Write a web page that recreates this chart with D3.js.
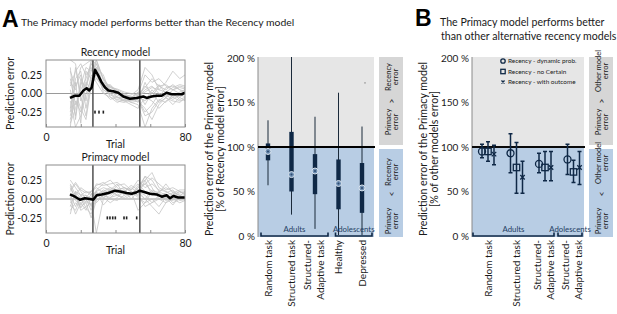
<!DOCTYPE html>
<html>
<head>
<meta charset="utf-8">
<script src="https://cdn.jsdelivr.net/npm/d3@7"></script>
<style>
  body { margin: 0; background: #fff; }
  svg { display: block; font-family: Lato, "Open Sans", sans-serif; }
</style>
</head>
<body>
<div id="fig"></div>
<script>
// ---------- data: panel A, trial-by-trial prediction error ----------
const switchTrials = [27, 54];
const trialsGray = [14, 17, 20, 23, 26, 29, 33, 37, 41, 45, 49, 53, 57, 61, 65, 69, 73, 77, 80];

const recencyGray = [
  [0.30, 0.10, 0.25, -0.20, 0.15, 0.45, 0.20, 0.05, 0.00, -0.05, -0.10, -0.05, 0.05, 0.10, 0.00, -0.05, 0.05, 0.00, 0.02],
  [-0.40, -0.20, 0.10, 0.35, 0.30, 0.40, 0.10, 0.05, -0.05, -0.08, -0.12, -0.10, -0.20, -0.35, -0.15, -0.05, 0.00, -0.08, -0.05],
  [0.45, 0.40, -0.10, 0.10, 0.45, 0.25, 0.15, 0.10, 0.05, 0.00, -0.05, 0.00, 0.25, 0.15, 0.20, 0.10, 0.05, 0.10, 0.08],
  [-0.10, -0.45, -0.30, 0.00, 0.20, 0.30, 0.05, 0.00, -0.10, -0.12, -0.08, -0.05, -0.10, 0.05, -0.05, 0.08, 0.10, 0.05, 0.00],
  [0.10, 0.30, 0.40, 0.25, 0.35, 0.20, 0.08, 0.10, 0.02, -0.02, -0.06, -0.02, 0.10, 0.00, 0.12, 0.00, -0.05, 0.02, 0.05],
  [-0.30, 0.00, -0.20, -0.35, 0.10, 0.35, 0.25, 0.00, -0.05, -0.10, -0.15, -0.20, -0.05, -0.10, -0.20, -0.10, -0.05, -0.10, -0.08],
  [0.20, -0.15, 0.05, 0.20, 0.40, 0.30, 0.12, 0.08, 0.04, -0.04, -0.02, 0.05, 0.35, 0.25, 0.05, 0.15, 0.30, 0.20, 0.25],
  [-0.45, 0.20, 0.30, -0.10, 0.25, 0.15, 0.00, -0.05, -0.08, -0.10, -0.04, -0.08, -0.25, -0.15, 0.00, -0.05, -0.15, -0.05, 0.00],
  [0.05, -0.30, 0.15, 0.10, 0.30, 0.45, 0.18, 0.02, -0.02, -0.06, -0.09, -0.03, 0.02, 0.08, 0.05, 0.02, 0.08, 0.12, 0.10],
  [-0.20, 0.15, -0.40, 0.30, 0.20, 0.25, 0.05, -0.02, -0.06, -0.05, -0.12, -0.15, -0.45, -0.20, -0.08, -0.12, -0.02, -0.05, -0.10],
  [0.35, -0.35, 0.20, 0.05, 0.40, 0.35, 0.10, 0.12, 0.00, -0.02, -0.05, -0.12, 0.15, -0.05, 0.10, 0.05, 0.12, 0.05, 0.03],
  [-0.25, 0.35, -0.05, -0.30, 0.15, 0.20, 0.15, -0.05, -0.12, -0.08, -0.10, -0.08, -0.30, -0.25, -0.10, -0.02, -0.08, -0.02, -0.04],
  [0.15, 0.05, 0.35, 0.40, 0.45, 0.40, 0.20, 0.08, 0.06, 0.02, 0.00, -0.02, 0.08, 0.20, 0.10, 0.12, 0.05, 0.08, 0.06],
  [-0.35, -0.10, -0.25, 0.15, 0.05, 0.30, 0.02, -0.08, -0.04, -0.10, -0.06, 0.02, -0.15, 0.02, -0.12, -0.06, -0.10, -0.12, -0.06]
];
const primacyGray = [
  [0.25, 0.15, 0.05, 0.10, 0.05, 0.10, 0.15, 0.12, 0.10, 0.08, 0.05, 0.15, 0.30, 0.25, 0.10, 0.05, 0.08, 0.05, 0.02],
  [-0.15, -0.05, -0.10, -0.05, -0.25, -0.02, 0.05, 0.02, 0.05, 0.00, 0.05, 0.10, 0.05, -0.05, 0.00, 0.05, -0.05, 0.00, 0.02],
  [0.10, 0.20, 0.10, 0.00, 0.05, 0.20, 0.18, 0.20, 0.22, 0.15, 0.10, 0.05, 0.25, 0.35, 0.15, 0.10, 0.05, 0.10, 0.05],
  [-0.05, 0.05, -0.15, -0.10, -0.05, -0.45, 0.00, 0.10, 0.05, 0.02, 0.08, 0.05, -0.10, -0.05, 0.05, 0.00, -0.02, 0.05, 0.00],
  [0.05, -0.10, 0.05, 0.05, 0.00, 0.05, 0.10, 0.15, 0.12, 0.15, 0.12, 0.20, 0.10, 0.05, 0.10, 0.15, 0.10, 0.05, 0.08],
  [0.15, 0.00, -0.05, -0.15, 0.02, 0.08, 0.02, -0.05, 0.02, 0.10, 0.15, 0.08, 0.00, -0.10, -0.20, -0.05, 0.00, -0.05, -0.02],
  [-0.20, 0.10, 0.00, 0.05, -0.10, 0.12, 0.20, 0.25, 0.15, 0.08, 0.05, 0.15, 0.20, 0.10, 0.05, 0.08, 0.12, 0.02, 0.05],
  [0.20, 0.05, 0.15, 0.10, 0.08, -0.05, 0.05, 0.00, -0.02, 0.05, 0.10, -0.15, -0.05, 0.10, 0.05, -0.02, 0.02, 0.08, 0.10],
  [0.00, -0.20, -0.05, 0.00, -0.15, 0.05, 0.12, 0.08, 0.18, 0.20, 0.12, 0.25, 0.15, 0.20, 0.12, 0.10, 0.05, 0.00, 0.03],
  [-0.10, 0.10, 0.05, -0.05, 0.02, 0.10, -0.08, 0.02, 0.10, 0.12, 0.00, 0.10, 0.30, 0.15, 0.00, -0.05, 0.05, 0.10, 0.06],
  [0.12, 0.22, 0.12, 0.08, 0.10, 0.15, 0.08, 0.12, 0.05, 0.10, 0.18, 0.12, 0.20, 0.28, 0.20, 0.12, 0.15, 0.10, 0.08],
  [-0.08, -0.15, 0.02, -0.12, -0.20, 0.02, 0.10, 0.05, 0.12, 0.15, 0.10, 0.02, -0.05, 0.00, -0.10, 0.02, 0.05, -0.02, -0.01],
  [0.18, -0.02, -0.08, 0.02, 0.10, 0.18, 0.22, 0.15, 0.08, 0.12, 0.05, 0.18, 0.25, 0.05, 0.08, 0.20, 0.08, 0.12, 0.12],
  [0.02, 0.08, -0.12, -0.02, -0.08, 0.08, 0.02, 0.12, 0.20, 0.05, 0.08, 0.10, 0.00, 0.12, 0.08, 0.02, -0.08, 0.04, 0.02]
];

const recMeanTrials = [13.8, 16.7, 19.2, 21.5, 23.4, 24.9, 26.3, 28.2, 30.1, 32, 34, 35.9, 38.7, 41.6, 44.5, 48.3, 52.2, 56, 57.9, 60.8, 63.7, 66.6, 69.4, 72.3, 75.2, 78.1, 80];
const recMean = [-0.06, -0.03, -0.03, 0.04, 0.07, 0.04, 0.08, 0.32, 0.24, 0.15, 0.08, 0.04, 0.03, 0.01, -0.04, -0.07, -0.06, -0.04, -0.06, -0.04, -0.03, -0.03, 0.01, -0.01, -0.01, -0.01, 0.01];
const priMeanTrials = [13.8, 16.7, 19.6, 22.4, 25.3, 27.2, 29.2, 32, 35.9, 39.7, 42.6, 46.4, 49.3, 52.2, 54.1, 57, 59.8, 63.7, 66.6, 69.4, 71.4, 73.3, 76.1, 80];
const priMean = [0.06, 0.03, -0.01, 0.01, 0, -0.01, 0.05, 0.06, 0.08, 0.11, 0.10, 0.08, 0.07, 0.09, 0.11, 0.09, 0.07, 0.06, 0.03, 0.05, 0.01, 0.04, 0.02, 0.02];

const recStars = [28.2, 30.5, 33];
const priStars = [35.3, 36.8, 38.4, 39.9, 44.9, 46.4, 52.2];
const starLevel = -0.25;

// ---------- data: panel A, box plots (% of Recency model error) ----------
const tasksA = ["Random task", "Structured task", "Structured-|Adaptive task", "Healthy", "Depressed"];
const boxLow = [57, 24, 8, 1, 1];
const boxQ1 = [85, 50, 47, 30, 26];
const boxMed = [95, 69, 73, 59, 54];
const boxQ3 = [104, 117, 92, 86, 82];
const boxHigh = [130, 215, 134, 161, 123];
const outlierA = [{ task: "Depressed", value: 172 }];

// ---------- data: panel B, mean and error bars ----------
const groupsB = ["Random task", "Structured task", "Structured-|Adaptive task", "Structured-|Adaptive task "];
const dynMean = [95, 93, 81, 86], dynLo = [88, 71, 71, 69], dynHi = [103, 115, 93, 103];
const noCertMean = [95, 77, 77, 72], noCertLo = [84, 48, 62, 60], noCertHi = [106, 105, 95, 85];
const outcomeMean = [92, 66, 77, 77], outcomeLo = [80, 48, 62, 58], outcomeHi = [102, 84, 95, 95];
const modelNames = ["Recency - dynamic prob.", "Recency - no Certain", "Recency - with outcome"];

const pctTicks = [0, 50, 100, 150, 200];
const errTicks = [-0.25, 0, 0.25];
const trialTicks = [0, 20, 40, 60, 80];

// ---------- drawing ----------
const W = 617, H = 314;
const navy = "#0f2846", grayBg = "#e6e6e6", blueBg = "#b8cde4", textCol = "#1a1a1a";

const svg = d3.select("#fig").append("svg")
  .attr("width", W).attr("height", H)
  .attr("viewBox", [0, 0, W, H]);

// rotated multi-line text, centred on (x, y)
rotText = (x, y, lines, size, gap, opts = {}) => {
  const t = svg.append("text")
    .attr("transform", `translate(${x},${y}) rotate(-90)`)
    .attr("text-anchor", opts.anchor || "middle")
    .attr("font-size", size)
    .attr("fill", opts.fill || textCol);
  lines.forEach((l, i) => {
    t.append("tspan").attr("x", 0).attr("y", i * gap).attr("dy", "0.35em").text(l);
  });
  return t;
}

// panel letters and titles
svg.append("text").attr("x", 2).attr("y", 27).attr("font-size", 23).attr("font-weight", 700)
  .attr("font-family", "Liberation Sans, Arial").text("A");
svg.append("text").attr("x", 21).attr("y", 26).attr("font-size", 10.4).attr("fill", textCol)
  .text("The Primacy model performs better than the Recency model");
svg.append("text").attr("x", 415).attr("y", 26).attr("font-size", 23).attr("font-weight", 700)
  .attr("font-family", "Liberation Sans, Arial").text("B");
svg.append("text").attr("x", 440).attr("y", 26).attr("font-size", 10.6).attr("fill", textCol)
  .text("The Primacy model performs better");
svg.append("text").attr("x", 441).attr("y", 40).attr("font-size", 10.6).attr("fill", textCol)
  .text("than other alternative recency models");

// ---- small trial plots ----
smallPlot = (cfg) => {
  const x = d3.scaleLinear().domain([0, 80]).range([cfg.x0, cfg.x1]);
  const y = d3.scaleLinear().domain([-0.45, 0.45]).range([cfg.y1, cfg.y0]);
  const g = svg.append("g");
  const clipId = "clip-" + cfg.id;
  svg.append("clipPath").attr("id", clipId).append("rect")
    .attr("x", cfg.x0).attr("y", cfg.y0).attr("width", cfg.x1 - cfg.x0).attr("height", cfg.y1 - cfg.y0);

  const inner = g.append("g").attr("clip-path", `url(#${clipId})`);
  inner.append("line").attr("x1", x(0)).attr("x2", x(80)).attr("y1", y(0)).attr("y2", y(0))
    .attr("stroke", "#9a9a9a").attr("stroke-width", 1);

  const lineGray = d3.line().x((d, i) => x(trialsGray[i])).y(d => y(d));
  inner.selectAll(".gray").data(cfg.gray).join("path")
    .attr("d", lineGray).attr("fill", "none")
    .attr("stroke", "#c4c4c4").attr("stroke-width", 1).attr("stroke-opacity", 0.8);

  inner.selectAll(".switch").data(switchTrials).join("line")
    .attr("x1", d => x(d)).attr("x2", d => x(d)).attr("y1", cfg.y0).attr("y2", cfg.y1)
    .attr("stroke", "#505050").attr("stroke-width", 1.5);

  const lineMean = d3.line().x((d, i) => x(cfg.meanTrials[i])).y(d => y(d));
  inner.append("path").datum(cfg.mean).attr("d", lineMean).attr("fill", "none")
    .attr("stroke", "#000").attr("stroke-width", 2.5).attr("stroke-linejoin", "round");

  inner.selectAll(".star").data(cfg.stars).join("rect")
    .attr("x", d => x(d) - 0.8).attr("y", y(starLevel) - 1.5).attr("width", 1.6).attr("height", 3)
    .attr("fill", "#222");

  g.append("rect").attr("x", cfg.x0).attr("y", cfg.y0).attr("width", cfg.x1 - cfg.x0)
    .attr("height", cfg.y1 - cfg.y0).attr("fill", "none").attr("stroke", "#8c8c8c").attr("stroke-width", 1);

  const gx = g.append("g").attr("transform", `translate(0,${cfg.y1})`)
    .call(d3.axisBottom(x).tickValues(trialTicks).tickSize(-3).tickPadding(7)
      .tickFormat(d => (d === 0 || d === 80) ? d : ""));
  gx.select(".domain").remove();
  gx.selectAll("line").attr("stroke", "#8c8c8c");
  gx.selectAll("text").attr("font-size", 10.5).attr("fill", textCol).attr("font-family", "Lato, sans-serif");

  const gy = g.append("g").attr("transform", `translate(${cfg.x0},0)`)
    .call(d3.axisLeft(y).tickValues(errTicks).tickSize(0).tickPadding(4).tickFormat(d => d.toFixed(2)));
  gy.select(".domain").remove();
  gy.selectAll("text").attr("font-size", 10.5).attr("fill", textCol).attr("font-family", "Lato, sans-serif");

  svg.append("text").attr("x", (cfg.x0 + cfg.x1) / 2).attr("y", cfg.y0 - 4)
    .attr("text-anchor", "middle").attr("font-size", 10.5).attr("fill", textCol).text(cfg.title);
  svg.append("text").attr("x", (cfg.x0 + cfg.x1) / 2).attr("y", cfg.y1 + 21)
    .attr("text-anchor", "middle").attr("font-size", 10.5).attr("fill", textCol).text("Trial");
  rotText(10, (cfg.y0 + cfg.y1) / 2, ["Prediction error"], 10.6, 0);
}

smallPlot({ id: "rec", title: "Recency model", x0: 46, x1: 185, y0: 60, y1: 127,
  gray: recencyGray, mean: recMean, meanTrials: recMeanTrials, stars: recStars });
smallPlot({ id: "pri", title: "Primacy model", x0: 46, x1: 185, y0: 165, y1: 233,
  gray: primacyGray, mean: priMean, meanTrials: priMeanTrials, stars: priStars });

// ---- shared pieces for the two percentage panels ----
const yP = d3.scaleLinear().domain([0, 200]).range([236, 58]);

pctFrame = (px0, px1, lblX, ylabel2, boxTexts) => {
  svg.append("rect").attr("x", px0).attr("y", 57).attr("width", px1 - px0).attr("height", yP(100) - 57)
    .attr("fill", grayBg);
  svg.append("rect").attr("x", px0).attr("y", yP(100)).attr("width", px1 - px0).attr("height", 237 - yP(100))
    .attr("fill", blueBg);
  svg.append("line").attr("x1", px0).attr("x2", px0).attr("y1", 57).attr("y2", 237)
    .attr("stroke", "#8a8a8a").attr("stroke-width", 1);

  const gy = svg.append("g").attr("transform", `translate(${px0 - 1},0)`)
    .call(d3.axisLeft(yP).tickValues(pctTicks).tickSize(0).tickPadding(2).tickFormat(d => d + " %"));
  gy.select(".domain").remove();
  gy.selectAll("text").attr("font-size", 10).attr("fill", textCol).attr("font-family", "Lato, sans-serif");

  rotText(lblX, 149, ["Prediction error of the Primacy model", ylabel2], 10.6, 11.5);

  // side boxes
  const bx = px1 + 5, bw = 24;
  svg.append("rect").attr("x", bx).attr("y", 57).attr("width", bw).attr("height", yP(100) - 59)
    .attr("fill", "#d6d6d6");
  svg.append("rect").attr("x", bx).attr("y", yP(100) + 2).attr("width", bw).attr("height", 237 - yP(100) - 2)
    .attr("fill", blueBg);
  boxTexts(bx);
}

boxLabels = (bx, other) => {
  const c1 = bx + 9, fs = 7.6, gap = 7.2;
  rotText(c1, 122, ["Primacy", "error"], fs, gap);
  rotText(c1 + 4, 101, [">"], fs + 1, 0);
  rotText(c1, other ? 71 : 77, other ? ["Other model", "error"] : ["Recency", "error"], fs, gap);
  rotText(c1, 221, ["Primacy", "error"], fs, gap);
  rotText(c1 + 4, 194, ["<"], fs + 1, 0);
  rotText(c1, other ? 163 : 172, other ? ["Other model", "error"] : ["Recency", "error"], fs, gap);
}

categoryLabels = (xs, cats) => {
  cats.forEach(c => {
    const lines = c.trim().split("|");
    lines.forEach((l, i) => {
      svg.append("text")
        .attr("transform", `translate(${xs(c) + (i - (lines.length - 1) / 2) * 13 - (lines.length > 1 ? 1.5 : 0)},240) rotate(-90)`)
        .attr("text-anchor", "end").attr("dy", "0.35em")
        .attr("font-size", 10).attr("fill", textCol).text(l);
    });
  });
}

bracket = (xa, xb, label) => {
  svg.append("path")
    .attr("d", `M${xa},232.5V236H${xb}V232.5`)
    .attr("fill", "none").attr("stroke", navy).attr("stroke-width", 1.6);
  svg.append("text").attr("x", (xa + xb) / 2).attr("y", 232).attr("text-anchor", "middle")
    .attr("font-size", 7.8).attr("fill", "#1f3d63").text(label);
}

// ---- panel A right: box plots ----
pctFrame(258, 374, 209, "[% of Recency model error]", bx => boxLabels(bx, false));

const xA = d3.scalePoint().domain(tasksA).range([268, 362]);
const boxes = tasksA.map((t, i) => ({ t, lo: boxLow[i], q1: boxQ1[i], med: boxMed[i], q3: boxQ3[i], hi: boxHigh[i] }));

svg.append("clipPath").attr("id", "clip-box").append("rect")
  .attr("x", 258).attr("y", 57).attr("width", 116).attr("height", 180);
const gBox = svg.append("g").attr("clip-path", "url(#clip-box)");

gBox.selectAll(".whisker").data(boxes).join("line")
  .attr("x1", d => xA(d.t)).attr("x2", d => xA(d.t))
  .attr("y1", d => yP(d.lo)).attr("y2", d => yP(d.hi))
  .attr("stroke", "#1b2a3a").attr("stroke-width", 1);
gBox.selectAll(".box").data(boxes).join("rect")
  .attr("x", d => xA(d.t) - 2.2).attr("width", 4.4)
  .attr("y", d => yP(d.q3)).attr("height", d => yP(d.q1) - yP(d.q3))
  .attr("fill", navy);

svg.append("line").attr("x1", 258).attr("x2", 375).attr("y1", yP(100)).attr("y2", yP(100))
  .attr("stroke", "#000").attr("stroke-width", 2);

svg.selectAll(".med").data(boxes).join("circle")
  .attr("cx", d => xA(d.t)).attr("cy", d => yP(d.med)).attr("r", 3)
  .attr("fill", "#6f8fb3").attr("stroke", "#dbe5ef").attr("stroke-width", 1);
svg.selectAll(".medDot").data(boxes).join("circle")
  .attr("cx", d => xA(d.t)).attr("cy", d => yP(d.med)).attr("r", 1)
  .attr("fill", "#2c4a6e");
svg.selectAll(".outl").data(outlierA).join("circle")
  .attr("cx", d => xA(d.task) + 3).attr("cy", d => yP(d.value)).attr("r", 0.8)
  .attr("fill", "#9a9a9a");

bracket(xA(tasksA[0]) - 7, xA(tasksA[2]) + 13, "Adults");
bracket(xA(tasksA[3]) - 3, xA(tasksA[4]) + 10, "Adolescents");
categoryLabels(xA, tasksA);

// ---- panel B: means and error bars ----
pctFrame(472, 584, 423, "[% of other models error]", bx => boxLabels(bx, true));

const xB = d3.scalePoint().domain(groupsB).range([488, 573.5]);
const models = [
  { name: modelNames[0], shape: "circle", dx: -6, mean: dynMean, lo: dynLo, hi: dynHi },
  { name: modelNames[1], shape: "square", dx: 0, mean: noCertMean, lo: noCertLo, hi: noCertHi },
  { name: modelNames[2], shape: "cross", dx: 6, mean: outcomeMean, lo: outcomeLo, hi: outcomeHi }
];

svg.append("line").attr("x1", 472).attr("x2", 585).attr("y1", yP(100)).attr("y2", yP(100))
  .attr("stroke", "#0a0a0a").attr("stroke-width", 2);

drawMarker = (g, shape, cx, cy, s) => {
  if (shape === "circle") {
    g.append("circle").attr("cx", cx).attr("cy", cy).attr("r", s)
      .attr("fill", "none").attr("stroke", navy).attr("stroke-width", 1.3);
  } else if (shape === "square") {
    g.append("rect").attr("x", cx - s).attr("y", cy - s).attr("width", 2 * s).attr("height", 2 * s)
      .attr("fill", "none").attr("stroke", navy).attr("stroke-width", 1.3);
  } else {
    const k = s * 0.7;
    g.append("path").attr("d", `M${cx - k},${cy - k}L${cx + k},${cy + k}M${cx - k},${cy + k}L${cx + k},${cy - k}`)
      .attr("stroke", navy).attr("stroke-width", 1.3);
  }
}

const gB = svg.append("g");
models.forEach(m => {
  groupsB.forEach((grp, i) => {
    const cx = xB(grp) + m.dx;
    gB.append("path")
      .attr("d", `M${cx - 2},${yP(m.hi[i])}H${cx + 2}M${cx},${yP(m.hi[i])}V${yP(m.lo[i])}M${cx - 2},${yP(m.lo[i])}H${cx + 2}`)
      .attr("fill", "none").attr("stroke", navy).attr("stroke-width", 1.5);
    drawMarker(gB, m.shape, cx, yP(m.mean[i]), m.shape === "circle" ? 3.5 : 3.2);
  });
});

// legend
models.forEach((m, i) => {
  const ly = 61 + i * 10.5;
  drawMarker(svg, m.shape, 503, ly, 2.2);
  svg.append("text").attr("x", 508).attr("y", ly).attr("dy", "0.35em")
    .attr("font-size", 6.4).attr("fill", textCol).text(m.name);
});

bracket(xB(groupsB[0]) - 15, xB(groupsB[2]) + 9, "Adults");
bracket(xB(groupsB[3]) - 15.5, xB(groupsB[3]) + 8.5, "Adolescents");
categoryLabels(xB, groupsB);
</script>
</body>
</html>
